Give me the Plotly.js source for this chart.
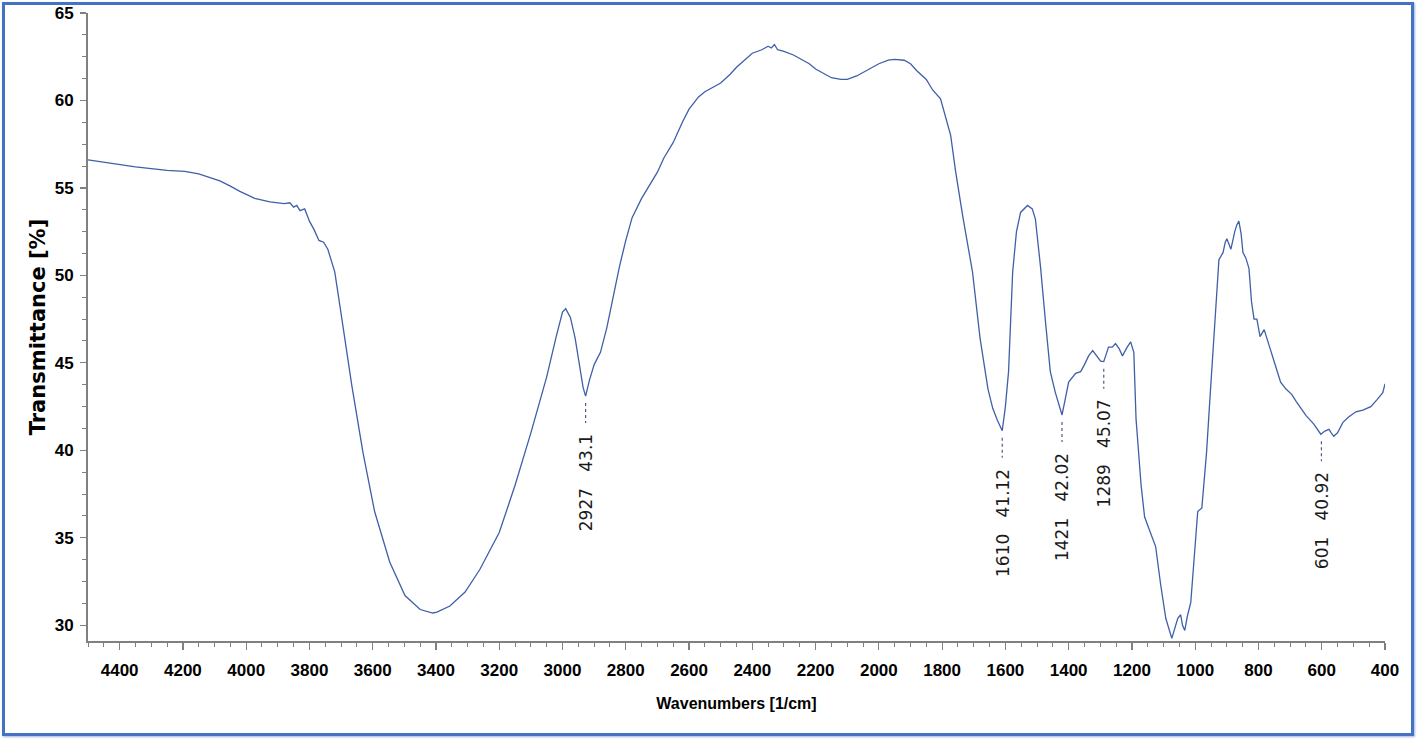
<!DOCTYPE html>
<html>
<head>
<meta charset="utf-8">
<script src="https://cdn.plot.ly/plotly-3.0.1.min.js"></script>
<style>
  body { margin: 0; background: #ffffff; }
  #wrap { position: relative; width: 1418px; height: 739px; }
  #ftir { width: 1418px; height: 739px; }
  #frame {
    position: absolute; left: 2px; top: 2px; width: 1406px; height: 728px;
    border: 3px solid #4472c4; box-shadow: 1px 1px 2px #9fb4de;
    pointer-events: none;
  }
</style>
</head>
<body>
<div id="wrap">
  <div id="ftir"></div>
  <div id="frame"></div>
</div>
<script>
// Wavenumbers (1/cm), high to low
let wavenumbers = [
  4500, 4430, 4350, 4300, 4250, 4194, 4150, 4100, 4083, 4050, 4020, 3973, 3925, 3880, 3862,
  3850, 3840, 3830, 3815, 3800, 3785, 3770, 3755, 3742, 3720, 3704, 3666, 3631, 3594, 3546,
  3498, 3450, 3410, 3397, 3356, 3308, 3261, 3200, 3150, 3100, 3050, 3020, 3000, 2990, 2975,
  2960, 2945, 2935, 2927, 2915, 2900, 2880, 2860, 2840, 2820, 2800, 2780, 2750, 2720, 2700,
  2680, 2650, 2620, 2600, 2570, 2550, 2500, 2470, 2450, 2420, 2400, 2370, 2350, 2340, 2330,
  2320, 2300, 2270, 2250, 2220, 2200, 2170, 2150, 2120, 2100, 2070, 2050, 2020, 2000, 1970,
  1950, 1920, 1900, 1880, 1850, 1830, 1805, 1773, 1757, 1735, 1704, 1680, 1655, 1640, 1625,
  1610, 1600, 1590, 1577, 1565, 1552, 1530, 1515, 1505, 1489, 1473, 1458, 1442, 1430, 1421,
  1410, 1400, 1378, 1362, 1350, 1337, 1324, 1310, 1299, 1289, 1280, 1274, 1262, 1252, 1240,
  1230, 1215, 1204, 1194, 1187, 1171, 1160, 1150, 1125, 1109, 1093, 1074, 1062, 1055, 1046,
  1040, 1033, 1025, 1014, 1000, 992, 979, 970, 964, 955, 944, 935, 925, 912, 905,
  900, 893, 887, 875, 868, 862, 855, 849, 840, 830, 822, 814, 805, 795, 782,
  775, 760, 745, 730, 713, 695, 681, 665, 650, 625, 603, 590, 577, 570, 562,
  550, 533, 515, 492, 470, 445, 425, 407, 400
];

// Transmittance (%) at each wavenumber
let transmittance = [
  56.6, 56.4, 56.2, 56.1, 56.0, 55.95, 55.8, 55.5, 55.4, 55.1, 54.8, 54.4, 54.2, 54.1, 54.15,
  53.9, 54.0, 53.7, 53.8, 53.1, 52.6, 52.0, 51.9, 51.5, 50.2, 48.3, 43.7, 39.9, 36.5, 33.6,
  31.7, 30.9, 30.7, 30.75, 31.1, 31.9, 33.2, 35.3, 38.0, 41.0, 44.2, 46.5, 47.9, 48.1, 47.6,
  46.4, 44.8, 43.6, 43.1, 44.0, 44.9, 45.6, 47.0, 48.8, 50.5, 52.0, 53.3, 54.4, 55.3, 55.9,
  56.7, 57.6, 58.8, 59.5, 60.2, 60.5, 61.0, 61.5, 61.9, 62.4, 62.7, 62.9, 63.1, 63.0, 63.2,
  62.9, 62.8, 62.6, 62.4, 62.1, 61.8, 61.5, 61.3, 61.2, 61.2, 61.4, 61.6, 61.9, 62.1, 62.3,
  62.35, 62.3, 62.1, 61.7, 61.2, 60.6, 60.1, 58.0, 55.9, 53.4, 50.2, 46.4, 43.5, 42.4, 41.7,
  41.12, 42.5, 44.5, 50.2, 52.5, 53.6, 54.0, 53.8, 53.2, 50.5, 47.3, 44.5, 43.3, 42.6, 42.02,
  43.0, 43.9, 44.4, 44.5, 44.9, 45.4, 45.7, 45.4, 45.1, 45.07, 45.6, 45.9, 45.9, 46.1, 45.8,
  45.4, 45.9, 46.2, 45.6, 41.8, 38.0, 36.2, 35.7, 34.5, 32.3, 30.4, 29.25, 29.9, 30.4, 30.6,
  30.0, 29.7, 30.5, 31.3, 34.5, 36.5, 36.7, 38.5, 39.9, 42.5, 45.6, 48.5, 50.9, 51.3, 51.9,
  52.1, 51.8, 51.5, 52.5, 52.9, 53.1, 52.4, 51.3, 51.0, 50.4, 48.5, 47.5, 47.5, 46.5, 46.9,
  46.5, 45.6, 44.8, 43.9, 43.5, 43.2, 42.8, 42.4, 42.0, 41.5, 40.92, 41.1, 41.2, 41.0, 40.8,
  41.0, 41.6, 41.9, 42.2, 42.3, 42.5, 42.9, 43.3, 43.8
];

// Labelled peaks
let peakWavenumbers = [2927, 1610, 1421, 1289, 601];
let peakValues = [43.1, 41.12, 42.02, 45.07, 40.92];
let peakTexts = ["2927\u00a0\u00a0\u00a043.1", "1610\u00a0\u00a0\u00a041.12", "1421\u00a0\u00a0\u00a042.02",
                 "1289\u00a0\u00a0\u00a045.07", "601\u00a0\u00a0\u00a040.92"];

let lineColor = "#3f5fa8";

let spectrum = {
  x: wavenumbers,
  y: transmittance,
  type: "scatter",
  mode: "lines",
  line: { color: lineColor, width: 1.3 },
  hoverinfo: "x+y"
};

// dotted marker lines and rotated labels under each peak
let shapes = [];
let annotations = [];
for (let i = 0; i < peakWavenumbers.length; i++) {
  shapes.push({
    type: "line",
    xref: "x", yref: "y",
    ysizemode: "pixel",
    yanchor: peakValues[i],
    x0: peakWavenumbers[i], x1: peakWavenumbers[i],
    y0: -7, y1: -27,
    line: { color: "#4a5c8e", width: 1.2, dash: "dot" }
  });
  annotations.push({
    x: peakWavenumbers[i],
    y: peakValues[i],
    xref: "x", yref: "y",
    text: peakTexts[i],
    showarrow: false,
    textangle: -90,
    xanchor: "center",
    yanchor: "top",
    yshift: -36,
    font: { family: "DejaVu Sans, Arial, sans-serif", size: 17, color: "#1a1a1a" }
  });
}

let tickFont = { family: "Liberation Sans, Arial, sans-serif", size: 17, color: "#000000", weight: "bold" };

let layout = {
  width: 1418,
  height: 739,
  margin: { l: 88, r: 33, t: 13, b: 98 },
  paper_bgcolor: "white",
  plot_bgcolor: "white",
  showlegend: false,
  xaxis: {
    range: [4500, 400],
    tick0: 400,
    dtick: 200,
    ticks: "outside",
    ticklen: 7,
    tickwidth: 1.2,
    tickcolor: "#808080",
    showline: true,
    linecolor: "#808080",
    linewidth: 2,
    showgrid: false,
    zeroline: false,
    tickfont: tickFont,
    ticklabelstandoff: 6,
    minor: { dtick: 50, ticks: "outside", ticklen: 4, tickcolor: "#808080", tickwidth: 1, showgrid: false },
    title: {
      text: "Wavenumbers [1/cm]",
      standoff: 18,
      font: { family: "Liberation Sans, Arial, sans-serif", size: 16, color: "#000000", weight: "bold" }
    }
  },
  yaxis: {
    range: [29.1, 65],
    tick0: 30,
    dtick: 5,
    ticks: "outside",
    ticklen: 6,
    tickwidth: 1.2,
    tickcolor: "#808080",
    showline: true,
    linecolor: "#808080",
    linewidth: 2,
    showgrid: false,
    zeroline: false,
    tickfont: tickFont,
    ticklabelstandoff: 3,
    minor: { tick0: 30, dtick: 1.25, ticks: "outside", ticklen: 4, tickcolor: "#808080", tickwidth: 1, showgrid: false },
    title: {
      text: "Transmittance [%]",
      standoff: 3,
      font: { family: "DejaVu Sans, Arial, sans-serif", size: 21, color: "#000000", weight: "bold" }
    }
  },
  shapes: shapes,
  annotations: annotations
};

Plotly.newPlot("ftir", [spectrum], layout, { displayModeBar: false, staticPlot: true });
</script>
</body>
</html>
